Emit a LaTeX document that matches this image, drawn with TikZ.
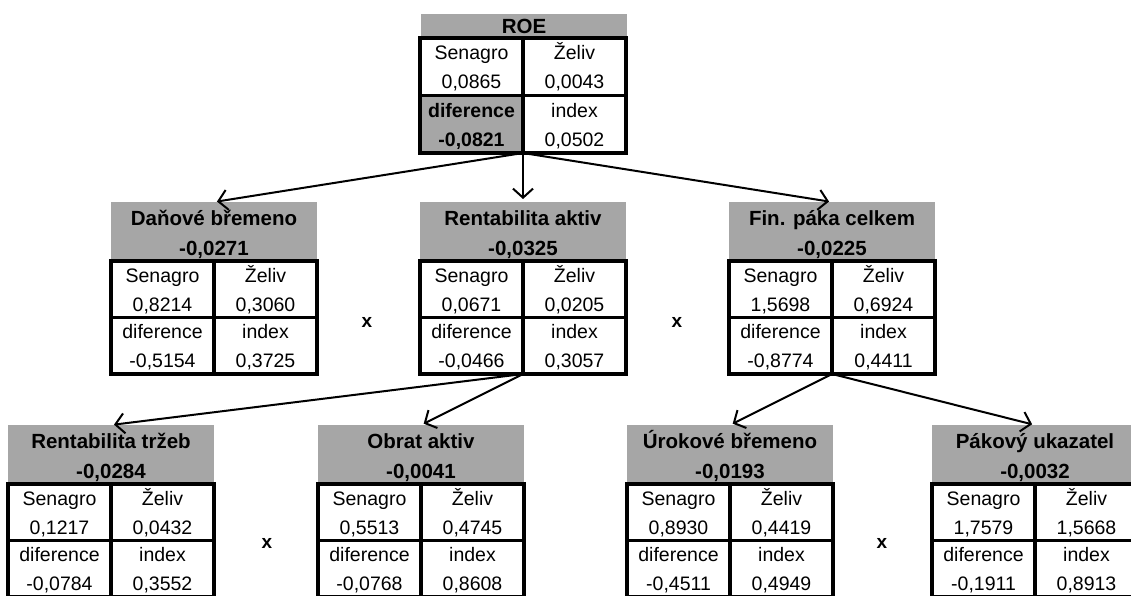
\documentclass[tikz,border=0pt]{standalone}
\usepackage{fontspec}
\setmainfont{Liberation Sans}
\usetikzlibrary{positioning,arrows.meta}

\definecolor{hdrgray}{RGB}{166,166,166}

% invisible struts for the two lines of a cell and of a header
\newcommand{\cst}{\lower6.5pt\vbox to 27.5pt{}}
\newcommand{\hst}{\lower6pt\vbox to 29pt{}}

% one block: name, x, y (top of table), title, value, Senagro, Zeliv, diference, index
\newcommand{\blok}[9]{%
  \node[hdr, anchor=south west] (#1) at (#2,#3) {\hst#4\\\hst#5};
  \node[cell, anchor=north west] (#1s) at (#2,#3) {\cst Senagro\\\cst#6};
  \node[cell, right=0pt of #1s] (#1z) {\cst Želiv\\\cst#7};
  \node[cell, below=0pt of #1s] (#1d) {\cst diference\\\cst#8};
  \node[cell, right=0pt of #1d] (#1i) {\cst index\\\cst#9};
}

\begin{document}
\begin{tikzpicture}[x=1pt, y=-1pt,
    hdr/.style={fill=hdrgray, minimum width=206pt, minimum height=54pt,
      inner sep=0pt, outer sep=0pt, align=center,
      font=\fontsize{20.5}{25}\selectfont\bfseries},
    cell/.style={draw, line width=3.5pt, fill=white, minimum width=103pt,
      minimum height=56.5pt, inner sep=0pt, outer sep=0pt, align=center,
      font=\fontsize{19.5}{29}\selectfont},
    times/.style={font=\fontsize{19}{20}\selectfont\bfseries},
    arr/.style={-{Straight Barb[length=9pt,width=20pt]}, line width=2pt, shorten >=3pt}]
  \useasboundingbox (0,0) rectangle (1131,595);

  % top
  \node[hdr, minimum height=24pt, anchor=south west] (roe) at (421,38) {ROE};
  \node[cell, anchor=north west, minimum height=57.5pt] (roes) at (420,38) {\cst Senagro\\\cst 0,0865};
  \node[cell, minimum height=57.5pt, right=0pt of roes] (roez) {\cst Želiv\\\cst 0,0043};
  \node[cell, minimum height=57.5pt, fill=hdrgray, font=\fontsize{19.5}{29}\selectfont\bfseries,
    below=0pt of roes] (roed) {\cst diference\\\cst -0,0821};
  \node[cell, minimum height=57.5pt, right=0pt of roed] (roei) {\cst index\\\cst 0,0502};

  % second level
  \blok{db}{111}{261}{Daňové břemeno}{-0,0271}{0,8214}{0,3060}{-0,5154}{0,3725}
  \blok{ra}{420}{261}{Rentabilita aktiv}{-0,0325}{0,0671}{0,0205}{-0,0466}{0,3057}
  \blok{fp}{729}{261}{Fin. páka celkem}{-0,0225}{1,5698}{0,6924}{-0,8774}{0,4411}

  % third level
  \blok{rt}{8}{484}{Rentabilita tržeb}{-0,0284}{0,1217}{0,0432}{-0,0784}{0,3552}
  \blok{oa}{318}{484}{Obrat aktiv}{-0,0041}{0,5513}{0,4745}{-0,0768}{0,8608}
  \blok{ub}{627}{484}{Úrokové břemeno}{-0,0193}{0,8930}{0,4419}{-0,4511}{0,4949}
  \blok{pu}{932}{484}{Pákový ukazatel}{-0,0032}{1,7579}{1,5668}{-0,1911}{0,8913}

  \node[times] (x1) at (367,322) {x};
  \node[times] (x2) at (677,322) {x};
  \node[times] (x3) at (267,543) {x};
  \node[times] (x4) at (882,543) {x};

  \draw[arr] (roed.south east) to (db.north);
  \draw[arr] (roed.south east) to (ra.north);
  \draw[arr] (roed.south east) to (fp.north);
  \draw[arr] (rad.south east) to (rt.north);
  \draw[arr] (rad.south east) to (oa.north);
  \draw[arr] (fpd.south east) to (ub.north);
  \draw[arr] (fpd.south east) to (pu.north);
\end{tikzpicture}
\end{document}
